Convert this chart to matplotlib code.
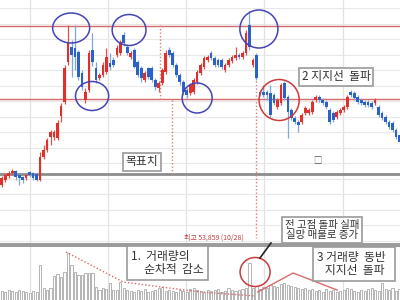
import matplotlib.pyplot as plt
import numpy as np
from matplotlib.patches import Ellipse
from matplotlib.lines import Line2D

plt.rcParams['font.family'] = ['Noto Sans CJK KR', 'DejaVu Sans']

# daily candles, won
opens = [36500, 37000, 37400, 37700, 37900, 37500, 37300, 37200, 37800, 37700,
         37600, 37000, 39300, 40000, 41300, 41300, 41200, 43400, 44800, 48800,
         50300, 50200, 49800, 47700, 45000, 46000, 50000, 48200, 47200, 47500,
         47800, 48700, 49000, 49500, 49700, 51500, 50300, 49300, 50000, 48800,
         48200, 47000, 48200, 48200, 47000, 46200, 46700, 47800, 50000, 49700,
         48500, 47500, 46800, 46000, 45700, 45800, 46800, 47700, 48300, 49000,
         49700, 49200, 49000, 49000, 48000, 48500, 48900, 49200, 49500, 49300,
         49700, 52500, 48500, 49500, 45800, 45800, 45800, 45700, 45500, 44300,
         44700, 46700, 45300, 44000, 43200, 42800, 42800, 43700, 43700, 43800,
         45000, 45300, 45000, 44800, 44000, 43700, 43300, 43700, 44000, 44300,
         45800, 45700, 45300, 45000, 44800, 44800, 44700, 44700, 44300, 43700,
         43300, 42800, 42700, 42000, 41500]
highs = [37400, 37700, 37900, 38100, 38000, 37600, 37400, 37600, 37900, 37800,
         37700, 39800, 40500, 41200, 42000, 42000, 43000, 44700, 48500, 52500,
         51000, 52500, 50000, 48000, 46200, 50000, 51700, 48800, 47700, 48800,
         50200, 49700, 49300, 50500, 51000, 51800, 50600, 49900, 50200, 49000,
         48400, 47900, 48300, 48400, 47200, 46900, 48200, 50000, 50300, 49900,
         48700, 47700, 47000, 46200, 46700, 47200, 48000, 48700, 49400, 49500,
         49900, 49400, 49200, 49200, 48700, 49200, 49500, 50300, 49700, 49900,
         52000, 53859, 49200, 49700, 46000, 46500, 46000, 46500, 45700, 45200,
         46700, 46900, 45500, 44200, 43400, 43000, 43700, 44400, 44200, 45000,
         45500, 45500, 45200, 45000, 44200, 43900, 44000, 44200, 44500, 45500,
         46000, 45900, 45500, 45200, 45000, 45000, 44900, 45200, 44500, 43900,
         43500, 43000, 42900, 42200, 41700]
lows = [36300, 36800, 37200, 37500, 37000, 36500, 36700, 37000, 37300, 37000,
        36900, 36900, 39100, 39800, 40500, 41000, 41000, 42800, 44600, 48500,
        47300, 48000, 47000, 46000, 44700, 45800, 48400, 46700, 47000, 47300,
        47600, 48000, 48300, 49300, 49500, 50400, 49500, 49100, 48200, 47300,
        46800, 46800, 47100, 46800, 46000, 45800, 46500, 47600, 49300, 48300,
        47300, 46500, 45500, 45200, 45500, 45600, 46600, 47500, 48100, 48800,
        49000, 48300, 48300, 48100, 47800, 48300, 48700, 49000, 49100, 49100,
        49500, 50000, 48300, 47000, 45400, 45300, 45000, 43300, 44500, 44100,
        44500, 45000, 41200, 43000, 42600, 41800, 42600, 43500, 43500, 43600,
        44800, 44800, 44500, 44100, 42600, 42800, 43100, 43500, 43800, 44100,
        45300, 45000, 44600, 44500, 44300, 44300, 44100, 44500, 43300, 43000,
        42600, 42100, 41800, 41100, 40600]
closes = [37200, 37500, 37700, 37900, 37300, 37200, 37000, 37500, 37500, 37200,
          37000, 39300, 40000, 41000, 41800, 41800, 42700, 44400, 48200, 50700,
          49500, 49300, 47300, 46300, 45800, 49700, 48800, 47000, 47500, 48500,
          49300, 48300, 48500, 50200, 50800, 50700, 49700, 49700, 48300, 47500,
          47200, 47700, 47300, 47000, 46300, 46700, 48000, 49700, 49500, 48500,
          47500, 46800, 45800, 45500, 46500, 47000, 47800, 48500, 49200, 49300,
          49200, 48500, 48500, 48300, 48500, 49000, 49300, 49500, 49300, 49700,
          51700, 50300, 49000, 47200, 45600, 45500, 45500, 43500, 44700, 45000,
          46500, 45200, 43800, 43200, 42800, 42500, 43500, 44200, 44000, 44800,
          45300, 45000, 44700, 44300, 42800, 43000, 43800, 44000, 44300, 45300,
          45500, 45200, 44800, 44700, 44500, 44500, 44300, 45000, 43500, 43200,
          42800, 42300, 42000, 41300, 40800]
# thousand shares
volume = [9, 8, 10, 9, 8, 10, 9, 8, 7, 9, 8, 35, 12, 10, 12, 24, 26, 23, 28, 47,
          35, 28, 25, 25, 27, 27, 27, 13, 10, 12, 11, 17, 10, 10, 18, 12,
          10, 9, 8, 10, 9, 11, 8, 9, 10, 12, 13, 9, 10, 9,
          8, 10, 9, 8, 11, 12, 10, 9, 8, 10, 9, 10, 11, 8, 9, 12, 10, 9, 10, 11, 12,
          37, 12, 14, 11, 13, 12, 15, 14, 13, 16, 17, 15, 14, 13, 12, 11, 12, 10, 11,
          9, 10, 8, 11, 9, 10, 8, 9, 10, 12, 11, 9, 8, 10, 9, 11, 12, 10, 9, 17,
          11, 10, 12, 9, 11]

resistance = 52400
support = 45100
target = 37600

fig = plt.figure(figsize=(4, 3), dpi=100)
ax = fig.add_axes([0, 56 / 300, 1, 244 / 300])
axv = fig.add_axes([0, 0, 1, 54 / 300])

x = np.arange(len(closes))
o = np.array(opens); c = np.array(closes)
up = c >= o
col = np.where(up, '#e0302c', '#2a62c8')
wick = np.where(up, '#e0504c', '#7fa6de')
ax.vlines(x, lows, highs, colors=wick, lw=0.9, zorder=3)
ax.bar(x, np.abs(c - o), bottom=np.minimum(o, c), width=0.78, color=col, zorder=4)

for a in (ax, axv):
    a.set_xlim(-0.49, 114.13)
    a.set_xticks(np.arange(8.1, 115, 22.4))
    a.grid(True, axis='x', color='#e2e2e2', lw=0.9)
    a.tick_params(length=0, labelbottom=False, labelleft=False)
    for s in ('left', 'right', 'top'):
        a.spines[s].set_visible(False)
    a.set_axisbelow(True)

ax.set_ylim(30600, 55000)
ax.set_yticks(np.arange(54200, 30600, -1550))
ax.grid(True, axis='y', color='#e8e8e8', lw=0.8)
ax.spines['bottom'].set_color('#9a9a9a')
ax.spines['bottom'].set_linewidth(1.4)

axv.set_ylim(0, 54)
axv.spines['top'].set_visible(True)
axv.spines['top'].set_color('#9a9a9a')
axv.spines['top'].set_linewidth(1.4)
axv.spines['bottom'].set_color('#c8d0e0')
axv.bar(x, volume, width=0.62, facecolor='white', edgecolor='#b4b4b4', lw=0.7, zorder=3)

# support / resistance / target
ax.axhline(resistance, color='#d46a6a', lw=1.0, zorder=2)
ax.axhline(support, color='#d46a6a', lw=1.0, zorder=2)
ax.axhline(target, color='#8c8c8c', lw=2.0, zorder=2)

# dotted verticals
dot = dict(color='#e07b7b', ls=(0, (1, 1.5)), lw=1.0, zorder=2)
ax.plot([45.4, 45.4], [52500, 45000], **dot)
ax.plot([48.8, 48.8], [45000, 37500], **dot)
ax.plot([72.9, 72.9], [49000, 31200], **dot)

# circles
for cx, cy, w, h in [(19.9, 52200, 10.6, 3000), (25.9, 45400, 9.5, 2900),
                     (36.5, 52000, 9.7, 3100), (56.0, 45200, 8.6, 3000),
                     (73.7, 52100, 10.9, 3800)]:
    ax.add_patch(Ellipse((cx, cy), w, h, fill=False, ec='#4444b4', lw=1.1, zorder=6))
ax.add_patch(Ellipse((79.5, 45000), 11.5, 4100, fill=False, ec='#cc3a3a', lw=1.1, zorder=6))
axv.add_patch(Ellipse((72.6, 28), 8.6, 29, fill=False, ec='#cc3a3a', lw=1.1, zorder=6))

# volume trend lines
axv.plot([18.4, 34.8, 56.8, 72.6], [48, 18, 8, 4], color='#d86a6a', ls=(0, (1, 1.5)), lw=1.0, zorder=4)
axv.plot([73.4, 83.5, 96.1], [8, 27, 10], color='#d86a6a', lw=1.0, zorder=4)

box = dict(boxstyle='square,pad=0.25', fc='white', ec='#9a9a9a', lw=1.2)
tc = '#333333'
fig.text(142 / 400, 1 - 162 / 300, '목표치', fontsize=8.5, color=tc, ha='center', va='center', bbox=box)
fig.text(336 / 400, 1 - 77 / 300, '2 지지선  돌파', fontsize=8.5, color=tc, ha='center', va='center', bbox=box)
fig.text(322 / 400, 1 - 230 / 300, '전 고점 돌파 실패\n실망 매물로 증가', fontsize=7.5, color=tc,
         ha='center', va='center', linespacing=1.0, bbox=box, zorder=10)
fig.text(131 / 400, 1 - 263 / 300, '1.  거래량의  \n     순차적  감소', fontsize=8.5, color=tc,
         ha='left', va='center', linespacing=1.0,
         bbox=dict(boxstyle='square,pad=0.35', fc='white', ec='#9a9a9a', lw=1.2), zorder=10)
fig.text(317 / 400, 1 - 264 / 300, '3 거래량  동반  \n   지지선  돌파', fontsize=8.5, color=tc,
         ha='left', va='center', linespacing=1.0,
         bbox=dict(boxstyle='square,pad=0.35', fc='white', ec='#9a9a9a', lw=1.2), zorder=10)
fig.text(184 / 400, 1 - 238 / 300, '최고 53,859 (10/28)', fontsize=5, color='#c04040', ha='left', va='center')
fig.text(317 / 400, 1 - 160 / 300, '□', fontsize=6, color='#555555', ha='center', va='center')
fig.add_artist(Line2D([271 / 400, 260 / 400], [1 - 243 / 300, 1 - 258 / 300], color='#222222', lw=1.2))

fig.savefig('out.png', dpi=100)
